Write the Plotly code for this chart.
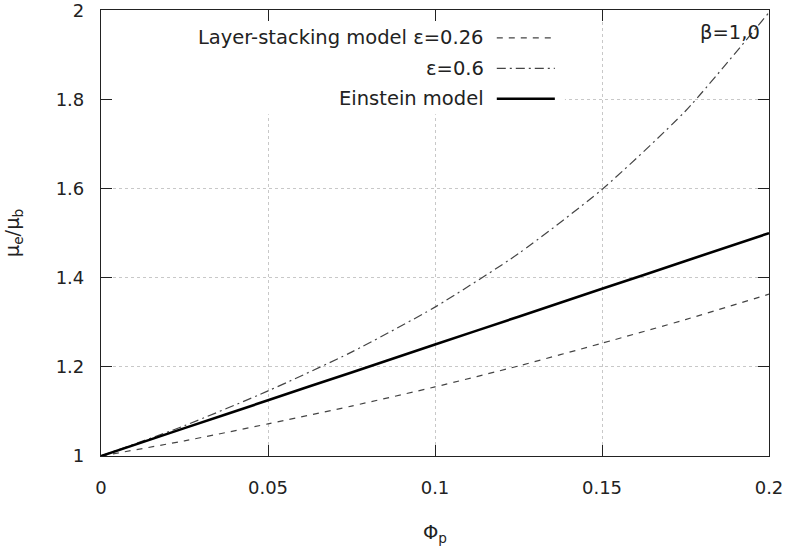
import plotly.graph_objects as go

phi = [0, 0.025, 0.05, 0.075, 0.1, 0.125, 0.15, 0.175, 0.2]
layer_026 = [1.0, 1.034, 1.072, 1.112, 1.155, 1.202, 1.253, 1.306, 1.363]
layer_06 = [1.0, 1.068, 1.146, 1.233, 1.334, 1.454, 1.598, 1.774, 1.995]
einstein = [1.0, 1.0625, 1.125, 1.1875, 1.25, 1.3125, 1.375, 1.4375, 1.5]

x_ticks = [0, 0.05, 0.1, 0.15, 0.2]
x_ticktext = ["0", "0.05", "0.1", "0.15", "0.2"]
y_ticks = [1, 1.2, 1.4, 1.6, 1.8, 2]
y_ticktext = ["1", "1.2", "1.4", "1.6", "1.8", "2"]

legend_labels = ["Layer-stacking model ε=0.26", "ε=0.6", "Einstein model"]

FONT = "DejaVu Sans"
GRAY = "#444444"

styles = [
    dict(color=GRAY, width=1.2, dash="6px,6px"),
    dict(color=GRAY, width=1.2, dash="9px,4px,2px,4px"),
    dict(color="black", width=2.6, dash="solid"),
]

fig = go.Figure()
for ys, st, name in zip([layer_026, layer_06, einstein], styles, legend_labels):
    fig.add_trace(go.Scatter(x=phi, y=ys, mode="lines", name=name,
                             line=dict(shape="spline", smoothing=0.6, **st),
                             showlegend=False, cliponaxis=False))

# opaque legend box (covers grid like gnuplot key)
fig.add_shape(type="rect", xref="x", yref="y", x0=0, x1=0.1389, y0=1.7665, y1=2,
              fillcolor="white", line=dict(width=0), layer="between")

row_y = [0.9374, 0.8693, 0.8011]
for lbl, st, yy in zip(legend_labels, styles, row_y):
    fig.add_annotation(xref="paper", yref="paper", x=0.576, y=yy, text=lbl,
                       showarrow=False, xanchor="right", yanchor="middle",
                       font=dict(family=FONT, size=19.5, color="#222"))
    fig.add_shape(type="line", xref="paper", yref="paper", x0=0.5925, x1=0.6794,
                  y0=yy, y1=yy, line=st)

fig.add_annotation(xref="paper", yref="paper", x=0.9895, y=0.9497, text="β=1,0",
                   showarrow=False, xanchor="right", yanchor="middle",
                   font=dict(family=FONT, size=19.5, color="#222"))

axis_common = dict(showline=True, linecolor="#222", linewidth=1.2, mirror="ticks",
                   ticks="inside", ticklen=11, tickcolor="#222", tickwidth=1.2,
                   showgrid=True, gridcolor="#c8c8c8", griddash="dot", gridwidth=1,
                   zeroline=False, ticklabeloverflow="allow", automargin=False,
                   tickfont=dict(family=FONT, size=18, color="#222"))

fig.update_xaxes(range=[0, 0.2], tickvals=x_ticks, ticktext=x_ticktext,
                 ticklabelstandoff=15,
                 title=dict(text="Φ<sub>p</sub>", standoff=28,
                            font=dict(family=FONT, size=19.5, color="#222")),
                 **axis_common)
fig.update_yaxes(range=[1, 2.0005], tickvals=y_ticks, ticktext=y_ticktext,
                 ticklabelstandoff=12,
                 title=dict(text="μ<sub>e</sub>/μ<sub>b</sub>", standoff=30,
                            font=dict(family=FONT, size=19.5, color="#222")),
                 **axis_common)

fig.update_layout(width=786, height=553, margin=dict(l=101, r=17, t=10, b=97),
                  plot_bgcolor="white", paper_bgcolor="white",
                  font=dict(family=FONT))

fig.write_html("out.html")
